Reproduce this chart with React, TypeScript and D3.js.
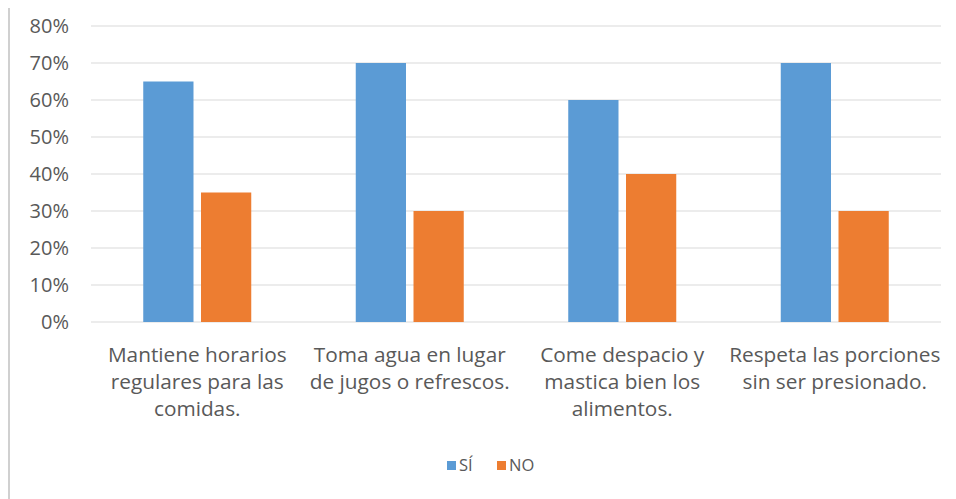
import React from "react";
import * as d3 from "d3";

const categories: string[][] = [
  ["Mantiene horarios", "regulares para las", "comidas."],
  ["Toma agua en lugar", "de jugos o refrescos."],
  ["Come despacio y", "mastica bien los", "alimentos."],
  ["Respeta las porciones", "sin ser presionado."],
];
const siValues = [0.65, 0.7, 0.6, 0.7];
const noValues = [0.35, 0.3, 0.4, 0.3];
const seriesNames = ["SÍ", "NO"];
const seriesColors = ["#5B9BD5", "#ED7D31"];
const yTicks = [0, 0.1, 0.2, 0.3, 0.4, 0.5, 0.6, 0.7, 0.8];

const W = 956;
const H = 499;
const FONT = "'Open Sans', 'Noto Sans', sans-serif";

export default function App() {
  const x = d3.scaleBand<number>().domain(d3.range(categories.length)).range([91, 941]).paddingInner(0).paddingOuter(0);
  const inner = d3.scaleBand<number>().domain([0, 1]).range([0, 108]).paddingInner(0.13);
  const y = d3.scaleLinear().domain([0, 0.8]).range([322, 26]);
  const fmt = d3.format(".0%");
  const series = [siValues, noValues];

  return (
    <svg width={W} height={H} style={{ position: "absolute", left: 0, top: 0, background: "#fff" }}>
      <rect x={0} y={0} width={W} height={H} fill="#fff" />
      <line x1={9} x2={9} y1={8} y2={H} stroke="#d0d0d0" strokeWidth={2} />
      {yTicks.map((t) => (
        <g key={t}>
          <line x1={x.range()[0]} x2={x.range()[1]} y1={y(t)} y2={y(t)} stroke="#d9d9d9" strokeWidth={1} />
          <text x={69} y={y(t)} dy="0.35em" textAnchor="end" fontFamily={FONT} fontSize={20} fill="#595959">
            {fmt(t)}
          </text>
        </g>
      ))}
      {categories.map((c, i) => {
        const cx = (x(i) as number) + x.bandwidth() / 2;
        const gx = cx - 54;
        return (
          <g key={i}>
            {series.map((s, j) => (
              <rect
                key={j}
                x={gx + (inner(j) as number)}
                y={y(s[i])}
                width={inner.bandwidth()}
                height={y(0) - y(s[i])}
                fill={seriesColors[j]}
              />
            ))}
            {c.map((line, k) => (
              <text key={k} x={cx} y={362 + k * 27} textAnchor="middle" fontFamily={FONT} fontSize={20.8} fill="#595959">
                {line}
              </text>
            ))}
          </g>
        );
      })}
      <g>
        {seriesNames.map((n, j) => {
          const lx = j === 0 ? 447 : 497;
          return (
            <g key={n}>
              <rect x={lx} y={461} width={9} height={9} fill={seriesColors[j]} />
              <text x={lx + 12} y={465} dy="0.35em" fontFamily={FONT} fontSize={16.5} fill="#595959">
                {n}
              </text>
            </g>
          );
        })}
      </g>
    </svg>
  );
}
